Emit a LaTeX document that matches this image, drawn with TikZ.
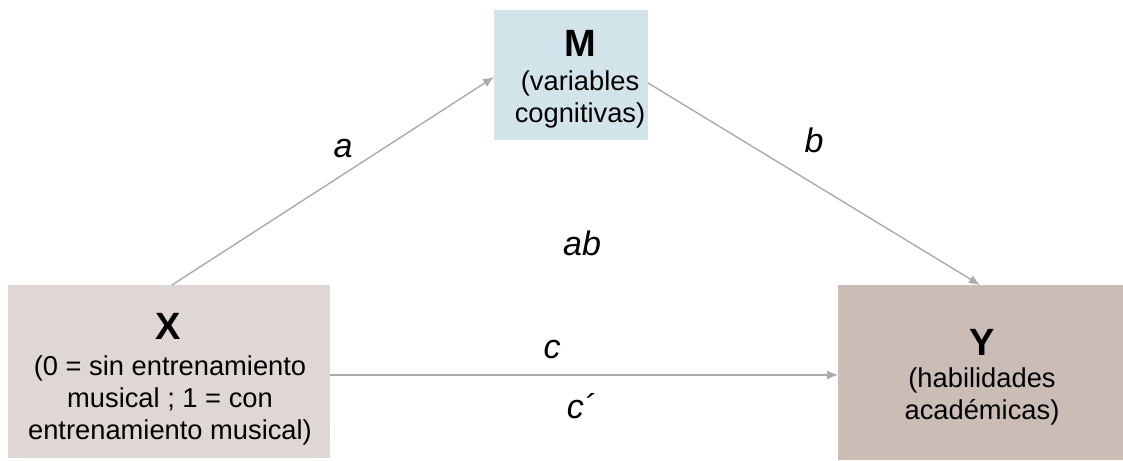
\documentclass[tikz,border=0pt]{standalone}
\usepackage{fontspec}
\setmainfont{Liberation Sans}
\usetikzlibrary{arrows.meta}
\definecolor{mfill}{HTML}{D2E4EA}
\definecolor{xfill}{HTML}{DED7D3}
\definecolor{yfill}{HTML}{CBBDB5}
\definecolor{arr}{HTML}{ABABAB}
\tikzset{
  box/.style={draw=none, inner sep=0pt, anchor=north west},
  ttl/.style={inner sep=0pt, font=\fontsize{38}{40}\selectfont\bfseries},
  body/.style={inner sep=0pt, align=center, font=\fontsize{27.3}{32}\selectfont},
  conn/.style={draw=arr, line width=1.4pt, -{Latex[length=11pt,width=9pt]}},
  lbl/.style={font=\fontsize{34}{36}\selectfont\itshape, inner sep=0pt, anchor=base}
}
\begin{document}
\begin{tikzpicture}[x=1pt,y=-1pt]
\useasboundingbox (0,0) rectangle (1123,460);
\fill[white] (0,0) rectangle (1123,460);
\node[box, fill=mfill, minimum width=154pt, minimum height=130pt] (M) at (494,10) {};
\node[box, fill=xfill, minimum width=322pt, minimum height=173pt] (X) at (8,285) {};
\node[box, fill=yfill, minimum width=285pt, minimum height=175pt] (Y) at (838,285) {};
\node[ttl] (Mt) at (580,43) {M};
\node[body] (Mb) at (580,99) {(variables\\cognitivas)};
\node[ttl] (Xt) at (168,326) {X};
\node[body] (Xb) at (170,400) {(0 = sin entrenamiento\\musical ; 1 = con\\entrenamiento musical)};
\node[ttl] (Yt) at (982,342) {Y};
\node[body] (Yb) at (982,396) {(habilidades\\académicas)};
\coordinate (xa) at (172,285);
\coordinate (ma) at (494,77);
\coordinate (mb) at (648,83);
\coordinate (yb) at (980,285);
\coordinate (xc) at (330,375);
\coordinate (yc) at (838,375);
\draw[conn] (xa) -- (ma);
\draw[conn] (mb) -- (yb);
\draw[conn] (xc) -- (yc);
\node[lbl] (la) at (343,157) {a};
\node[lbl] (lb) at (814,152) {b};
\node[lbl] (lab) at (582,255) {ab};
\node[lbl] (lc) at (552,358) {c};
\node[lbl] (lcp) at (581,418) {c´};
\end{tikzpicture}
\end{document}
